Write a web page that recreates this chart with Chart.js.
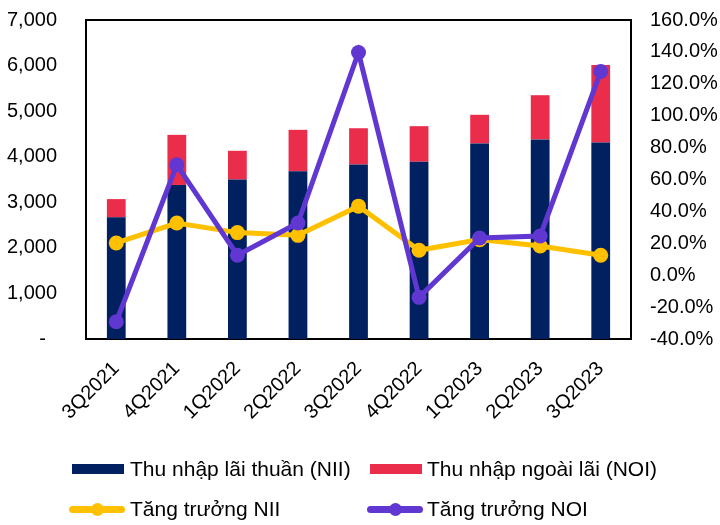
<!DOCTYPE html>
<html>
<head>
<meta charset="utf-8">
<script src="https://cdn.jsdelivr.net/npm/chart.js@4/dist/chart.umd.min.js"></script>
<style>
  html, body { margin: 0; padding: 0; background: #fff; }
  #wrap { position: relative; width: 720px; height: 525px; overflow: hidden; }
  canvas { position: absolute; left: 0; top: -21px; }
  .lg { position: absolute; font-family: "Liberation Sans", Arial, sans-serif; font-size: 21px; color: #000; white-space: nowrap; line-height: 24px; }
  .box { position: absolute; width: 52px; height: 10px; }
  .ln { position: absolute; width: 56px; height: 7px; border-radius: 3.5px; }
  .dot { position: absolute; width: 13px; height: 13px; border-radius: 50%; }
</style>
</head>
<body>
<div id="wrap">
  <canvas id="c" width="720" height="546"></canvas>
  <div class="box" style="left:72px;top:464px;background:#002060"></div>
  <div class="lg" style="left:130px;top:457px">Thu nhập lãi thuần (NII)</div>
  <div class="box" style="left:370px;top:464px;background:#EB2D4C"></div>
  <div class="lg" style="left:427px;top:457px">Thu nhập ngoài lãi (NOI)</div>
  <div class="ln" style="left:69px;top:506px;background:#FFC000"></div>
  <div class="dot" style="left:91px;top:503px;background:#FFC000"></div>
  <div class="lg" style="left:130px;top:497px">Tăng trưởng NII</div>
  <div class="ln" style="left:367px;top:506px;background:#6037D0"></div>
  <div class="dot" style="left:389px;top:503px;background:#6037D0"></div>
  <div class="lg" style="left:427px;top:497px">Tăng trưởng NOI</div>
</div>
<script>
const categories = ["3Q2021","4Q2021","1Q2022","2Q2022","3Q2022","4Q2022","1Q2023","2Q2023","3Q2023"];
const nii = [2670, 3380, 3500, 3680, 3830, 3890, 4290, 4380, 4310];
const noi = [400, 1100, 630, 910, 795, 780, 630, 970, 1700];
const niiGrowth = [20.2, 32.7, 26.7, 25.0, 43.3, 15.6, 22.3, 18.3, 12.5];
const noiGrowth = [-29.2, 69.2, 12.5, 32.7, 139.6, -13.9, 23.3, 24.6, 127.7];
const leftTicks = [0, 1000, 2000, 3000, 4000, 5000, 6000, 7000];
const rightTicks = [-40, -20, 0, 20, 40, 60, 80, 100, 120, 140, 160];

const FONT = { family: "'Liberation Sans', Arial, sans-serif", size: 20 };

const borderPlugin = {
  id: 'areaBorder',
  beforeDatasetsDraw(chart) {
    const a = chart.chartArea, ctx = chart.ctx;
    ctx.save();
    ctx.strokeStyle = '#000';
    ctx.lineWidth = 2;
    ctx.strokeRect(a.left, a.top, a.right - a.left, a.bottom - a.top);
    ctx.restore();
  }
};

new Chart(document.getElementById('c'), {
  data: {
    labels: categories,
    datasets: [
      { type: 'line', label: 'Tăng trưởng NOI', data: noiGrowth, yAxisID: 'y1', order: 0,
        borderColor: '#6037D0', backgroundColor: '#6037D0', borderWidth: 5,
        pointRadius: 7.5, pointHoverRadius: 7.5, pointBorderWidth: 0, tension: 0 },
      { type: 'line', label: 'Tăng trưởng NII', data: niiGrowth, yAxisID: 'y1', order: 1,
        borderColor: '#FFC000', backgroundColor: '#FFC000', borderWidth: 5,
        pointRadius: 7.5, pointHoverRadius: 7.5, pointBorderWidth: 0, tension: 0 },
      { type: 'bar', label: 'Thu nhập lãi thuần (NII)', data: nii, yAxisID: 'y', order: 2,
        backgroundColor: '#002060', stack: 's', barPercentage: 0.31, categoryPercentage: 1 },
      { type: 'bar', label: 'Thu nhập ngoài lãi (NOI)', data: noi, yAxisID: 'y', order: 3,
        backgroundColor: '#EB2D4C', stack: 's', barPercentage: 0.31, categoryPercentage: 1 }
    ]
  },
  options: {
    responsive: false,
    animation: false,
    layout: { padding: { top: 3, left: 0, right: 0, bottom: 0 } },
    plugins: { legend: { display: false }, tooltip: { enabled: false } },
    scales: {
      x: {
        stacked: true,
        grid: { display: false, drawTicks: false },
        border: { display: false },
        ticks: { font: FONT, color: '#000', maxRotation: 45, minRotation: 45, padding: 18 },
        afterFit(s) { s.height = 186; }
      },
      y: {
        position: 'left', stacked: true, min: 0, max: 7000,
        grid: { display: false, drawTicks: false },
        border: { display: false },
        afterBuildTicks(s) { s.ticks = leftTicks.map(v => ({ value: v })); },
        ticks: {
          font: FONT, color: '#000', padding: 29,
          callback: v => v === 0 ? '-  ' : v.toLocaleString('en-US')
        },
        afterFit(s) { s.width = 86; }
      },
      y1: {
        position: 'right', min: -40, max: 160,
        grid: { display: false, drawTicks: false },
        border: { display: false },
        afterBuildTicks(s) { s.ticks = rightTicks.map(v => ({ value: v })); },
        ticks: { font: FONT, color: '#000', padding: 19, callback: v => v.toFixed(1) + '%' },
        afterFit(s) { s.width = 720 - 631; }
      }
    }
  },
  plugins: [borderPlugin]
});
</script>
</body>
</html>
